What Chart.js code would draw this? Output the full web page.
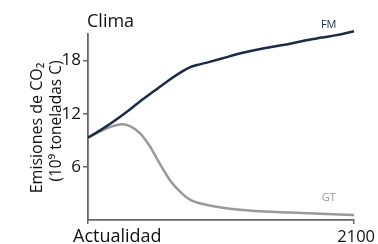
<!DOCTYPE html>
<html><head><meta charset="utf-8">
<script src="https://cdn.jsdelivr.net/npm/chart.js@4/dist/chart.umd.min.js"></script>
<style>html,body{margin:0;padding:0;background:#fff}#c{display:block}</style>
</head><body>
<canvas id="c" width="378" height="244"></canvas>
<script>
const title = "Clima";
const yTitle = ["Emisiones de CO₂", "(10⁹ toneladas C)"];
const xTickValues = [0, 100];
const xTickLabels = ["Actualidad", "2100"];
const yTickValues = [6, 12, 18];
const seriesNames = ["FM", "GT"];
const fmX = [0, 5, 10, 15, 20, 25, 30, 35, 38, 41, 45, 50, 57, 63, 70, 76, 82, 88, 94, 100];
const fmY = [9.3, 10.2, 11.2, 12.3, 13.5, 14.6, 15.7, 16.7, 17.2, 17.5, 17.8, 18.2, 18.8, 19.2, 19.6, 19.9, 20.3, 20.6, 20.9, 21.3];
const gtX = [0, 4.5, 8.3, 12.8, 15.8, 19.5, 23.3, 27.1, 30.8, 34.6, 38.3, 44.7, 57.1, 75.9, 100];
const gtY = [9.3, 10.0, 10.5, 10.8, 10.6, 9.8, 8.3, 6.3, 4.5, 3.2, 2.3, 1.7, 1.15, 0.85, 0.57];

const FONT = "'Open Sans', 'Noto Sans', sans-serif";
const AX = '#666';

const labelsPlugin = {
  id: 'labels',
  afterDraw(chart) {
    const ctx = chart.ctx, a = chart.chartArea;
    const xs = chart.scales.x, ys = chart.scales.y;
    ctx.save();
    ctx.fillStyle = '#111';
    ctx.textBaseline = 'alphabetic';
    ctx.textAlign = 'left';
    ctx.font = '18px ' + FONT;
    ctx.fillText(title, a.left - 1, 27);
    // x tick labels
    ctx.font = '18px ' + FONT;
    ctx.textAlign = 'left';
    ctx.fillText(xTickLabels[0], xs.getPixelForValue(xTickValues[0]) - 15, 242);
    ctx.font = '16.5px ' + FONT;
    ctx.textAlign = 'right';
    ctx.fillText(xTickLabels[1], xs.getPixelForValue(xTickValues[1]) + 21, 242);
    ctx.restore();
    // y title
    ctx.save();
    ctx.fillStyle = '#111';
    ctx.rotate(-Math.PI / 2);
    ctx.textAlign = 'center';
    ctx.font = '16px ' + FONT;
    ctx.fillText(yTitle[0], -128, 42);
    ctx.font = '15.5px ' + FONT;
    ctx.fillText(yTitle[1], -121, 61);
    ctx.restore();
    // series labels
    ctx.save();
    ctx.font = '11px ' + FONT;
    ctx.textAlign = 'center';
    ctx.fillStyle = '#1c2b45';
    ctx.fillText(seriesNames[0], xs.getPixelForValue(90.5), ys.getPixelForValue(21.7));
    ctx.fillStyle = '#999';
    ctx.fillText(seriesNames[1], xs.getPixelForValue(90.5), ys.getPixelForValue(2.2));
    ctx.restore();
  }
};

new Chart(document.getElementById('c'), {
  type: 'line',
  data: {
    datasets: [
      { label: seriesNames[0], data: fmX.map((x, i) => ({x, y: fmY[i]})), borderColor: '#1c2b45', borderWidth: 2.5, pointRadius: 0, cubicInterpolationMode: 'monotone', fill: false, clip: false },
      { label: seriesNames[1], data: gtX.map((x, i) => ({x, y: gtY[i]})), borderColor: '#9a9a9a', borderWidth: 2.5, pointRadius: 0, cubicInterpolationMode: 'monotone', fill: false, clip: false }
    ]
  },
  options: {
    responsive: false, animation: false, devicePixelRatio: 1,
    layout: { padding: { top: 34, right: 24, left: 0, bottom: 0 } },
    plugins: { legend: { display: false }, tooltip: { enabled: false } },
    scales: {
      x: {
        type: 'linear', min: 0, max: 100,
        afterBuildTicks: s => { s.ticks = xTickValues.map(v => ({value: v})); },
        afterFit: s => { s.height = 24; },
        ticks: { callback: () => '', padding: 0, maxRotation: 0, autoSkip: false },
        grid: { display: true, drawOnChartArea: false, tickLength: 4, color: AX, lineWidth: 1.5 },
        border: { display: true, color: AX, width: 1.8 }
      },
      y: {
        type: 'linear', min: 0, max: 21,
        afterBuildTicks: s => { s.ticks = yTickValues.map(v => ({value: v})); },
        afterFit: s => { s.width = 88; },
        ticks: { font: { family: FONT, size: 17 }, color: '#111', padding: 2 },
        grid: { display: true, drawOnChartArea: false, tickLength: 5, color: AX, lineWidth: 1.5 },
        border: { display: true, color: AX, width: 1.8 }
      }
    }
  },
  plugins: [labelsPlugin]
});
</script>
</body></html>
